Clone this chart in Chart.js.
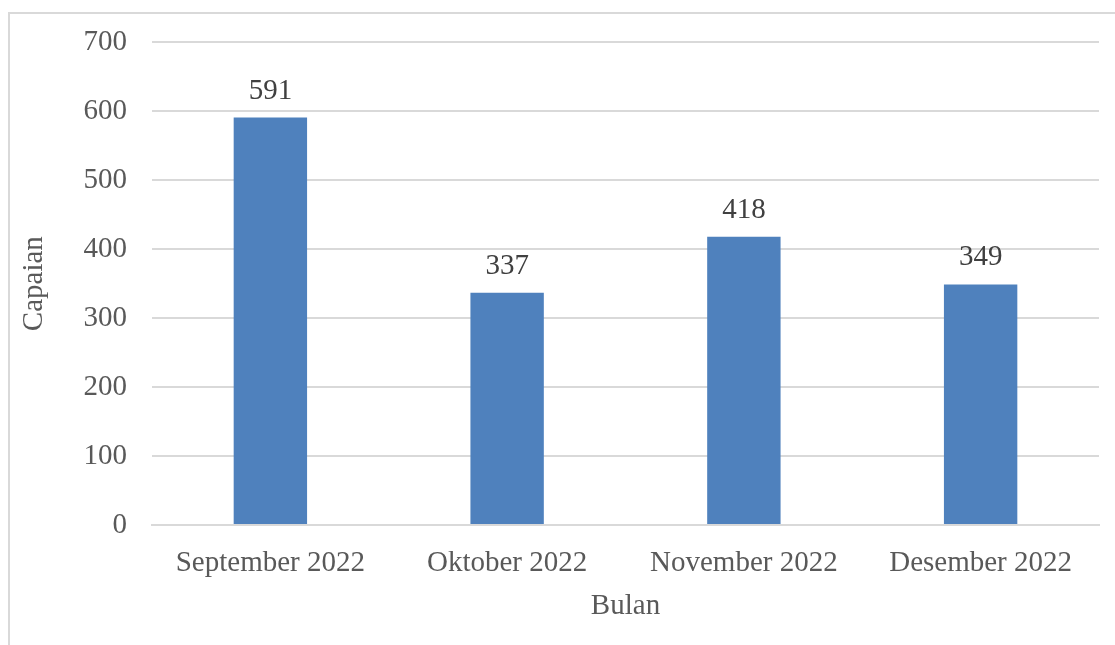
<!DOCTYPE html>
<html>
<head>
<meta charset="utf-8">
<script src="https://cdn.jsdelivr.net/npm/chart.js@4"></script>
<style>
  html, body { margin: 0; padding: 0; background: #fff; }
  #wrap { position: relative; width: 1115px; height: 645px; }
</style>
</head>
<body>
<div id="wrap"><canvas id="capaianChart" width="1115" height="645"></canvas></div>
<script>
// data
const bulan = ['September 2022', 'Oktober 2022', 'November 2022', 'Desember 2022'];
const capaian = [591, 337, 418, 349];
const yMax = 700;
const yStep = 100;

const FONT = '"Liberation Serif", "Times New Roman", serif';
const SIZE = 29;

// frame around the chart (only left and top edges are visible)
const framePlugin = {
  id: 'frame',
  beforeDraw(chart) {
    const c = chart.ctx;
    c.save();
    c.strokeStyle = '#d9d9d9';
    c.lineWidth = 2;
    c.beginPath();
    c.moveTo(9, chart.height);
    c.lineTo(9, 13);
    c.lineTo(chart.width, 13);
    c.stroke();
    c.restore();
  }
};

// value labels above bars
const valueLabels = {
  id: 'valueLabels',
  afterDatasetsDraw(chart) {
    const c = chart.ctx;
    c.save();
    c.font = SIZE + 'px ' + FONT;
    c.fillStyle = '#404040';
    c.textAlign = 'center';
    c.textBaseline = 'bottom';
    chart.getDatasetMeta(0).data.forEach((bar, i) => {
      c.fillText(capaian[i], bar.x, bar.y - 12);
    });
    c.restore();
  }
};

new Chart(document.getElementById('capaianChart').getContext('2d'), {
  type: 'bar',
  data: {
    labels: bulan,
    datasets: [{
      label: 'Capaian',
      data: capaian,
      backgroundColor: '#4f81bd',
      categoryPercentage: 1,
      barPercentage: 0.31
    }]
  },
  options: {
    responsive: false,
    animation: false,
    layout: { padding: { left: 0, top: 42, right: 16, bottom: 0 } },
    plugins: { legend: { display: false }, tooltip: { enabled: false } },
    scales: {
      x: {
        grid: { display: false, drawTicks: false },
        border: { display: true, color: '#d9d9d9', width: 2 },
        ticks: { color: '#595959', font: { family: FONT, size: SIZE }, padding: 21, maxRotation: 0 },
        title: { display: true, text: 'Bulan', color: '#595959', font: { family: FONT, size: SIZE }, padding: { top: 4, bottom: 21 } },
        afterFit(scale) { scale.height = 120; }
      },
      y: {
        min: 0,
        max: yMax,
        grid: { color: '#d9d9d9', lineWidth: 2, drawTicks: false },
        border: { display: false },
        ticks: { stepSize: yStep, color: '#595959', font: { family: FONT, size: SIZE }, padding: 25 },
        title: { display: true, text: 'Capaian', color: '#595959', font: { family: FONT, size: SIZE }, padding: { top: 17, bottom: 0 } },
        afterFit(scale) { scale.width = 152; }
      }
    }
  },
  plugins: [framePlugin, valueLabels]
});
</script>
</body>
</html>
